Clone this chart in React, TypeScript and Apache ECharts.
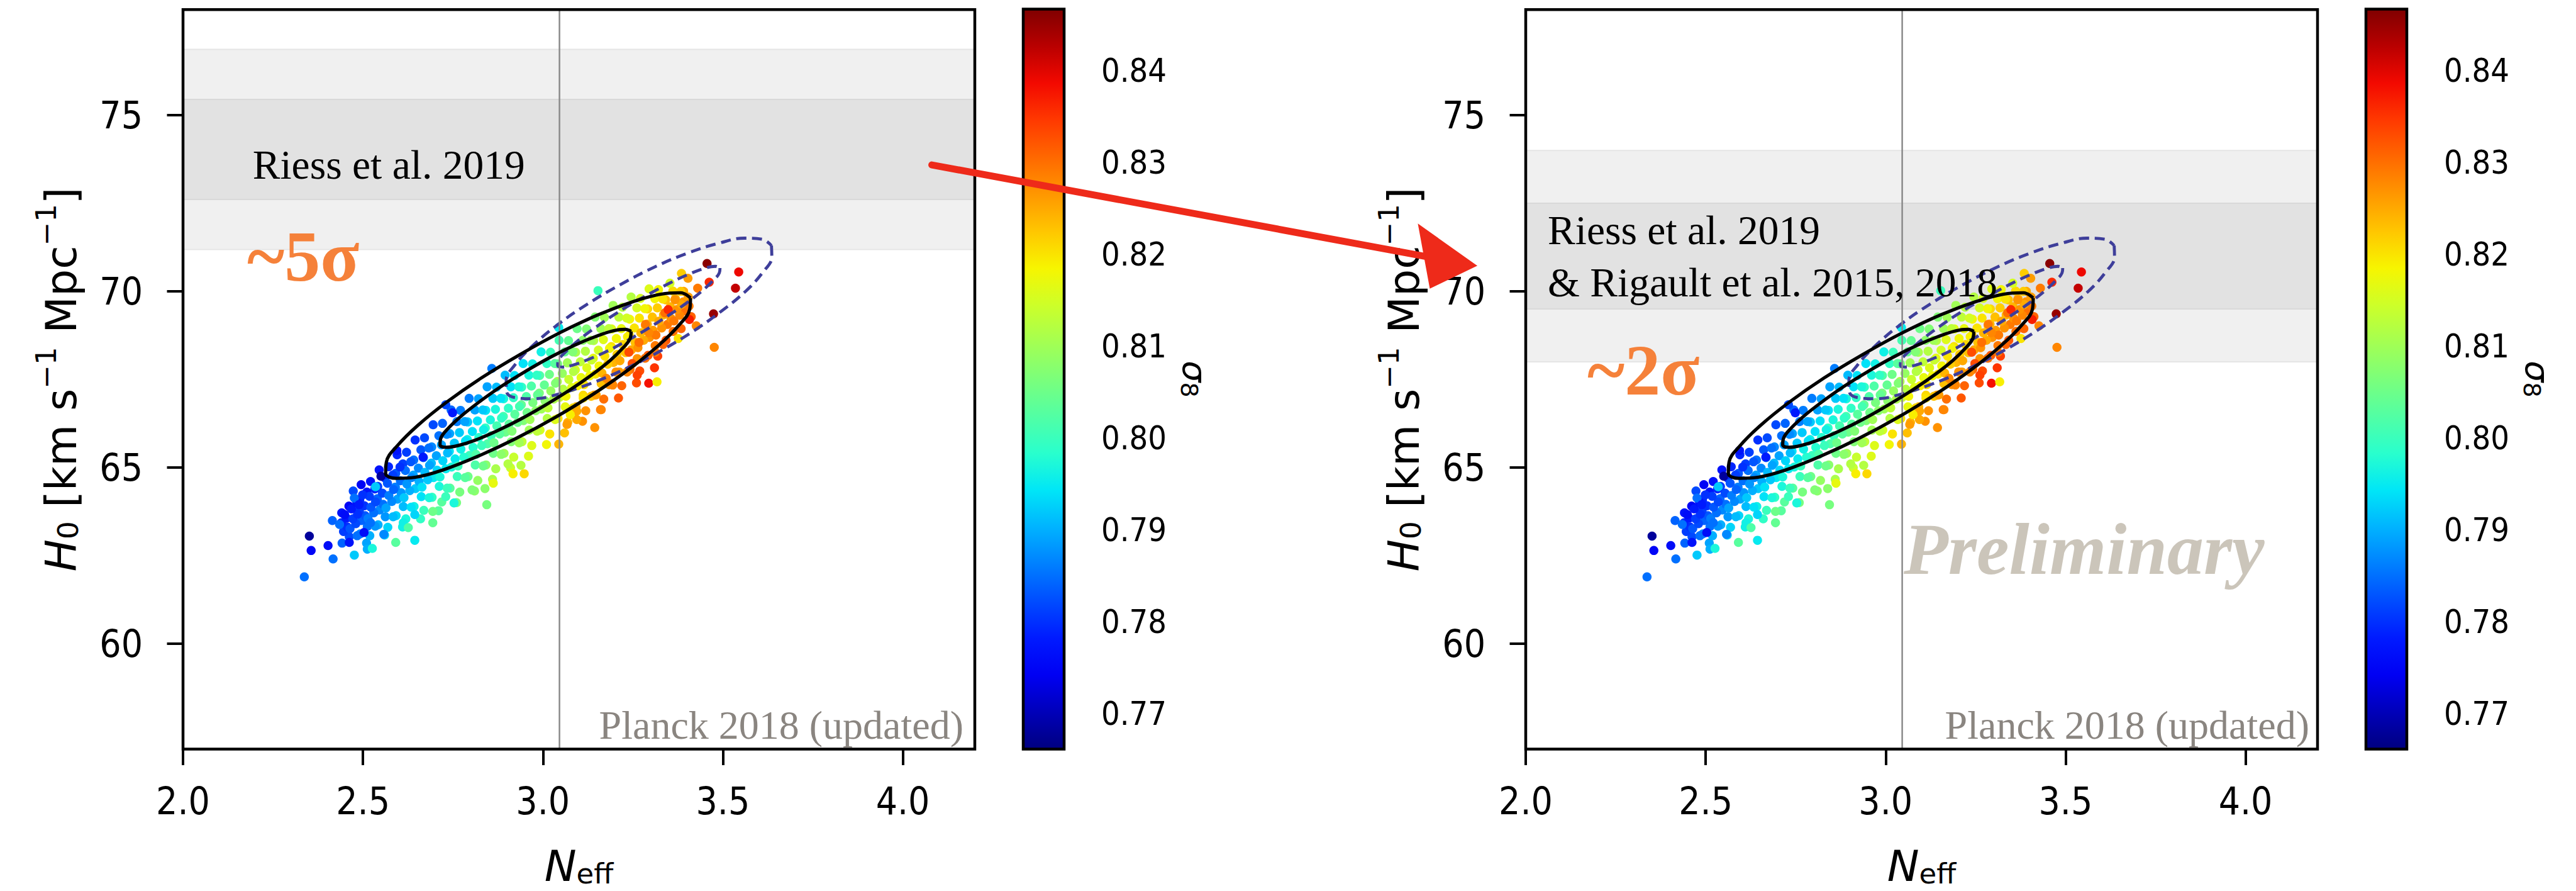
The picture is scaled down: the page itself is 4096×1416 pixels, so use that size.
import React, { useEffect, useRef } from "react";
import * as echarts from "echarts";

// ---- axis ranges and ticks ----
const NEFF_RANGE = [2.0, 4.2];
const H0_RANGE = [57, 78];
const SIGMA8_RANGE = [0.7661, 0.8467];
const NEFF_TICKS = [2.0, 2.5, 3.0, 3.5, 4.0];
const H0_TICKS = [60, 65, 70, 75];
const SIGMA8_TICKS = [0.77, 0.78, 0.79, 0.8, 0.81, 0.82, 0.83, 0.84];

// Planck standard-model value of N_eff
const PLANCK_NEFF = [3.046];

// local H0 measurements: [low, high] for 2 sigma then 1 sigma
const RIESS2019_BANDS = [
  [71.19, 76.87],
  [72.61, 75.45],
];
const RIESS_RIGAULT_BANDS = [
  [68.0, 74.0],
  [69.5, 72.5],
];

// Planck 2018 (updated) chain samples: [N_eff, H0, sigma8]
const SAMPLES_CORE_1 = [
  [2.442, 62.85, 0.784], [2.462, 63.03, 0.782], [2.446, 63.18, 0.781], [2.456, 63.31, 0.78], [2.44, 63.43, 0.779], [2.454, 63.56, 0.778], [2.441, 63.71, 0.777], [2.461, 63.9, 0.775],
  [2.51, 62.85, 0.789], [2.492, 63.11, 0.787], [2.512, 63.32, 0.785], [2.496, 63.49, 0.784], [2.506, 63.63, 0.783], [2.49, 63.77, 0.781], [2.504, 63.91, 0.78], [2.491, 64.08, 0.779], [2.511, 64.3, 0.777], [2.495, 64.51, 0.775],
  [2.56, 63.08, 0.793], [2.542, 63.37, 0.79], [2.562, 63.6, 0.788], [2.546, 63.79, 0.787], [2.556, 63.95, 0.785], [2.54, 64.11, 0.784], [2.554, 64.27, 0.782], [2.541, 64.46, 0.781], [2.561, 64.7, 0.779], [2.545, 64.93, 0.777],
  [2.61, 63.31, 0.796], [2.592, 63.63, 0.793], [2.612, 63.89, 0.791], [2.596, 64.1, 0.789], [2.606, 64.28, 0.788], [2.59, 64.44, 0.786], [2.604, 64.62, 0.785], [2.591, 64.83, 0.783], [2.611, 65.1, 0.781], [2.595, 65.36, 0.779],
  [2.66, 63.54, 0.799], [2.642, 63.89, 0.796], [2.662, 64.17, 0.794], [2.646, 64.4, 0.792], [2.656, 64.6, 0.79], [2.64, 64.78, 0.789], [2.654, 64.98, 0.787], [2.641, 65.21, 0.785], [2.661, 65.5, 0.783], [2.645, 65.78, 0.78],
  [2.71, 63.77, 0.803], [2.692, 64.15, 0.799], [2.712, 64.46, 0.797], [2.696, 64.71, 0.795], [2.706, 64.92, 0.793], [2.69, 65.12, 0.791], [2.704, 65.33, 0.789], [2.691, 65.58, 0.787], [2.711, 65.9, 0.785], [2.695, 66.21, 0.782],
  [2.76, 64.0, 0.806], [2.742, 64.41, 0.803], [2.762, 64.74, 0.8], [2.746, 65.01, 0.797], [2.756, 65.24, 0.795], [2.74, 65.46, 0.794], [2.754, 65.69, 0.792], [2.741, 65.96, 0.789], [2.761, 66.3, 0.786], [2.745, 66.63, 0.784],
  [2.81, 64.33, 0.808], [2.792, 64.74, 0.805], [2.812, 65.07, 0.802], [2.796, 65.34, 0.8], [2.806, 65.57, 0.798], [2.79, 65.79, 0.796], [2.804, 66.02, 0.794], [2.791, 66.29, 0.792], [2.811, 66.63, 0.789], [2.795, 66.96, 0.786],
  [2.86, 64.66, 0.811], [2.842, 65.07, 0.808], [2.862, 65.4, 0.805], [2.846, 65.67, 0.802], [2.856, 65.9, 0.8], [2.84, 66.12, 0.799], [2.854, 66.35, 0.797], [2.841, 66.62, 0.794], [2.861, 66.96, 0.792], [2.845, 67.29, 0.789],
  [2.91, 64.99, 0.814], [2.892, 65.4, 0.81], [2.912, 65.73, 0.807], [2.896, 66.0, 0.805], [2.906, 66.23, 0.803], [2.89, 66.45, 0.801], [2.904, 66.68, 0.799], [2.891, 66.95, 0.797], [2.911, 67.29, 0.794], [2.895, 67.62, 0.791],
  [2.96, 65.32, 0.816], [2.942, 65.73, 0.813], [2.962, 66.06, 0.81], [2.946, 66.33, 0.807], [2.956, 66.56, 0.805], [2.94, 66.78, 0.804], [2.954, 67.01, 0.802], [2.941, 67.28, 0.799], [2.961, 67.62, 0.797], [2.945, 67.95, 0.794],
  [3.01, 65.65, 0.818], [2.992, 66.06, 0.815], [3.012, 66.39, 0.812], [2.996, 66.66, 0.81], [3.006, 66.89, 0.808], [2.99, 67.11, 0.806], [3.004, 67.34, 0.804], [2.991, 67.61, 0.802], [3.011, 67.95, 0.799], [2.995, 68.28, 0.796],
  [3.06, 65.98, 0.823], [3.042, 66.39, 0.82], [3.062, 66.72, 0.817], [3.046, 66.99, 0.814], [3.056, 67.22, 0.812], [3.04, 67.44, 0.811], [3.054, 67.67, 0.809], [3.041, 67.94, 0.806], [3.061, 68.28, 0.804], [3.045, 68.61, 0.801],
  [3.11, 66.31, 0.827], [3.092, 66.72, 0.824], [3.112, 67.05, 0.821], [3.096, 67.32, 0.819], [3.106, 67.55, 0.817], [3.09, 67.77, 0.815], [3.104, 68.0, 0.813], [3.091, 68.27, 0.811], [3.111, 68.61, 0.808], [3.095, 68.94, 0.805],
  [3.16, 66.64, 0.829], [3.142, 67.05, 0.826], [3.162, 67.38, 0.823], [3.146, 67.65, 0.82], [3.156, 67.88, 0.818], [3.14, 68.1, 0.817], [3.154, 68.33, 0.815], [3.141, 68.6, 0.812], [3.161, 68.94, 0.81], [3.145, 69.27, 0.807],
  [3.21, 66.97, 0.832], [3.192, 67.38, 0.829], [3.212, 67.71, 0.826], [3.196, 67.98, 0.824], [3.206, 68.21, 0.822], [3.19, 68.43, 0.82], [3.204, 68.66, 0.818], [3.191, 68.93, 0.816], [3.211, 69.27, 0.813], [3.195, 69.6, 0.81],
  [3.26, 67.4, 0.833], [3.242, 67.78, 0.83], [3.262, 68.09, 0.827], [3.246, 68.34, 0.825], [3.256, 68.55, 0.823], [3.24, 68.75, 0.822], [3.254, 68.96, 0.82], [3.241, 69.21, 0.818], [3.261, 69.53, 0.815], [3.245, 69.84, 0.812],
  [3.31, 67.83, 0.835], [3.292, 68.18, 0.832], [3.312, 68.46, 0.829], [3.296, 68.69, 0.827], [3.306, 68.89, 0.826], [3.29, 69.07, 0.824], [3.304, 69.27, 0.823], [3.291, 69.5, 0.821], [3.311, 69.79, 0.818], [3.295, 70.07, 0.816],
  [3.342, 68.61, 0.832], [3.362, 68.86, 0.83], [3.346, 69.06, 0.829], [3.356, 69.23, 0.827], [3.34, 69.39, 0.826], [3.354, 69.56, 0.824], [3.341, 69.76, 0.823], [3.361, 70.01, 0.821],
  [3.412, 69.28, 0.831], [3.396, 69.44, 0.83], [3.406, 69.58, 0.829], [3.39, 69.7, 0.827], [3.404, 69.84, 0.826], [3.391, 70.0, 0.825],
];

const SAMPLES_CORE_2 = [
  [2.484, 63.06, 0.785], [2.464, 63.26, 0.783], [2.48, 63.4, 0.782], [2.472, 63.54, 0.781], [2.485, 63.67, 0.78], [2.468, 63.82, 0.778], [2.483, 64.0, 0.777],
  [2.519, 63.06, 0.79], [2.534, 63.33, 0.788], [2.514, 63.55, 0.786], [2.53, 63.71, 0.785], [2.522, 63.87, 0.783], [2.535, 64.02, 0.782], [2.518, 64.18, 0.781], [2.533, 64.39, 0.779], [2.521, 64.6, 0.777],
  [2.569, 63.3, 0.793], [2.584, 63.6, 0.791], [2.564, 63.85, 0.789], [2.58, 64.03, 0.787], [2.572, 64.2, 0.786], [2.585, 64.37, 0.784], [2.568, 64.55, 0.783], [2.583, 64.78, 0.781], [2.571, 65.02, 0.779],
  [2.619, 63.54, 0.797], [2.634, 63.87, 0.794], [2.614, 64.14, 0.792], [2.63, 64.34, 0.79], [2.622, 64.53, 0.788], [2.635, 64.71, 0.787], [2.618, 64.91, 0.785], [2.633, 65.16, 0.783], [2.621, 65.43, 0.781],
  [2.669, 63.78, 0.8], [2.684, 64.14, 0.797], [2.664, 64.44, 0.794], [2.68, 64.65, 0.792], [2.672, 64.86, 0.791], [2.685, 65.06, 0.789], [2.668, 65.28, 0.787], [2.683, 65.55, 0.785], [2.671, 65.84, 0.782],
  [2.719, 64.02, 0.803], [2.734, 64.41, 0.8], [2.714, 64.73, 0.797], [2.73, 64.96, 0.795], [2.722, 65.19, 0.793], [2.735, 65.41, 0.791], [2.718, 65.64, 0.789], [2.733, 65.94, 0.787], [2.721, 66.25, 0.784],
  [2.769, 64.3, 0.806], [2.784, 64.71, 0.803], [2.764, 65.04, 0.8], [2.78, 65.29, 0.798], [2.772, 65.52, 0.796], [2.785, 65.75, 0.794], [2.768, 65.99, 0.792], [2.783, 66.3, 0.789], [2.771, 66.62, 0.786],
  [2.819, 64.63, 0.809], [2.834, 65.04, 0.805], [2.814, 65.37, 0.802], [2.83, 65.62, 0.8], [2.822, 65.85, 0.798], [2.835, 66.07, 0.796], [2.818, 66.32, 0.794], [2.833, 66.63, 0.792], [2.821, 66.95, 0.789],
  [2.869, 64.96, 0.811], [2.884, 65.37, 0.808], [2.864, 65.7, 0.805], [2.88, 65.95, 0.803], [2.872, 66.18, 0.801], [2.885, 66.4, 0.799], [2.868, 66.65, 0.797], [2.883, 66.96, 0.794], [2.871, 67.28, 0.791],
  [2.919, 65.29, 0.814], [2.934, 65.7, 0.81], [2.914, 66.03, 0.807], [2.93, 66.28, 0.805], [2.922, 66.51, 0.803], [2.935, 66.73, 0.801], [2.918, 66.98, 0.799], [2.933, 67.29, 0.797], [2.921, 67.61, 0.794],
  [2.969, 65.62, 0.816], [2.984, 66.03, 0.813], [2.964, 66.36, 0.81], [2.98, 66.61, 0.808], [2.972, 66.84, 0.806], [2.985, 67.06, 0.804], [2.968, 67.31, 0.802], [2.983, 67.62, 0.799], [2.971, 67.94, 0.796],
  [3.019, 65.95, 0.82], [3.034, 66.36, 0.816], [3.014, 66.69, 0.813], [3.03, 66.94, 0.811], [3.022, 67.17, 0.809], [3.035, 67.39, 0.807], [3.018, 67.64, 0.805], [3.033, 67.95, 0.803], [3.021, 68.27, 0.8],
  [3.069, 66.28, 0.824], [3.084, 66.69, 0.821], [3.064, 67.02, 0.818], [3.08, 67.27, 0.816], [3.072, 67.5, 0.814], [3.085, 67.72, 0.812], [3.068, 67.97, 0.81], [3.083, 68.28, 0.807], [3.071, 68.6, 0.804],
  [3.119, 66.61, 0.827], [3.134, 67.02, 0.823], [3.114, 67.35, 0.82], [3.13, 67.6, 0.818], [3.122, 67.83, 0.816], [3.135, 68.05, 0.814], [3.118, 68.3, 0.812], [3.133, 68.61, 0.81], [3.121, 68.93, 0.807],
  [3.169, 66.94, 0.83], [3.184, 67.35, 0.827], [3.164, 67.68, 0.824], [3.18, 67.93, 0.822], [3.172, 68.16, 0.82], [3.185, 68.38, 0.818], [3.168, 68.63, 0.816], [3.183, 68.94, 0.813], [3.171, 69.26, 0.81],
  [3.219, 67.32, 0.831], [3.234, 67.71, 0.828], [3.214, 68.03, 0.825], [3.23, 68.26, 0.823], [3.222, 68.49, 0.821], [3.235, 68.71, 0.819], [3.218, 68.94, 0.817], [3.233, 69.24, 0.815], [3.221, 69.55, 0.812],
  [3.269, 67.74, 0.833], [3.284, 68.1, 0.83], [3.264, 68.4, 0.827], [3.28, 68.61, 0.825], [3.272, 68.82, 0.824], [3.285, 69.02, 0.822], [3.268, 69.24, 0.82], [3.283, 69.51, 0.818], [3.271, 69.8, 0.815],
  [3.319, 68.16, 0.834], [3.334, 68.49, 0.831], [3.314, 68.76, 0.829], [3.33, 68.96, 0.827], [3.322, 69.15, 0.825], [3.335, 69.33, 0.824], [3.318, 69.53, 0.822], [3.333, 69.78, 0.82], [3.321, 70.05, 0.818],
  [3.384, 68.94, 0.831], [3.364, 69.16, 0.829], [3.38, 69.32, 0.828], [3.372, 69.48, 0.827], [3.385, 69.63, 0.825], [3.368, 69.79, 0.824], [3.383, 70.0, 0.822],
];

const SAMPLES_TAIL = [
  [2.337, 61.89, 0.785], [2.351, 63.05, 0.768], [2.356, 62.64, 0.775], [2.403, 62.78, 0.776], [2.417, 62.4, 0.785],
  [2.415, 63.49, 0.784], [2.435, 63.38, 0.785], [2.449, 63.66, 0.776], [2.462, 62.87, 0.777], [2.476, 62.51, 0.792],
  [2.473, 64.33, 0.782], [2.476, 64.13, 0.785], [2.499, 64.22, 0.78], [2.503, 63.15, 0.776], [2.489, 63.94, 0.778],
  [2.512, 62.68, 0.79], [2.526, 62.7, 0.797], [2.521, 63.43, 0.785], [2.535, 64.45, 0.792], [2.55, 64.75, 0.768],
  [2.558, 63.1, 0.787], [2.591, 62.87, 0.803], [2.644, 62.93, 0.795], [2.594, 65.48, 0.777], [2.603, 65.01, 0.78],
  [2.612, 63.43, 0.796], [2.626, 63.29, 0.802], [2.644, 63.66, 0.793], [2.694, 63.43, 0.804], [2.694, 63.75, 0.805],
  [2.667, 65.29, 0.778], [2.73, 66.78, 0.782], [2.749, 66.55, 0.778], [2.858, 67.81, 0.786], [2.844, 63.94, 0.806],
  [2.753, 63.99, 0.797], [2.862, 64.55, 0.817], [2.917, 64.82, 0.819], [2.948, 64.82, 0.821], [2.939, 65.06, 0.812],
  [2.903, 65.1, 0.812], [2.839, 64.4, 0.808], [2.803, 64.36, 0.807], [2.73, 64.17, 0.8], [3.153, 70.02, 0.8],
  [3.044, 68.97, 0.795], [3.144, 66.13, 0.827], [3.162, 66.64, 0.828], [3.067, 66.22, 0.826], [3.094, 66.36, 0.825],
  [3.044, 65.66, 0.824], [3.294, 67.39, 0.838], [3.317, 67.43, 0.819], [3.262, 67.62, 0.834], [3.248, 67.95, 0.833],
  [3.312, 68.27, 0.829], [3.376, 68.66, 0.82], [3.407, 69.2, 0.837], [3.426, 69.02, 0.828], [3.476, 68.41, 0.828],
  [3.474, 69.36, 0.845], [3.456, 70.79, 0.846], [3.462, 70.26, 0.836], [3.535, 70.09, 0.842], [3.544, 70.55, 0.839],
  [3.43, 70.09, 0.829], [3.403, 70.37, 0.826], [3.385, 70.51, 0.822], [3.353, 70.23, 0.815], [3.367, 69.76, 0.827],
  [3.339, 69.39, 0.83], [3.348, 69.48, 0.836], [3.285, 69.06, 0.829], [3.294, 68.83, 0.828], [3.267, 68.55, 0.83],
  [3.239, 68.27, 0.833], [3.203, 67.71, 0.827], [3.194, 67.34, 0.828], [3.176, 67.53, 0.828], [3.148, 67.06, 0.826],
  [3.112, 66.97, 0.82], [3.094, 66.6, 0.825], [3.076, 66.5, 0.819],
];

// 68% / 95% contours of the Planck 2018 (updated) constraint: [N_eff, H0]
const CONTOUR_68 = [
  [3.245, 68.86], [3.243, 68.68], [3.223, 68.4], [3.187, 68.04], [3.136, 67.63], [3.075, 67.2], [3.007, 66.77],
  [2.938, 66.37], [2.871, 66.03], [2.811, 65.77], [2.764, 65.62], [2.73, 65.57], [2.714, 65.64], [2.716, 65.82],
  [2.736, 66.1], [2.772, 66.45], [2.823, 66.86], [2.884, 67.3], [2.952, 67.73], [3.021, 68.13], [3.088, 68.47],
  [3.147, 68.72], [3.195, 68.88], [3.229, 68.92], [3.245, 68.86],
];
const CONTOUR_95 = [
  [3.41, 69.81], [3.408, 69.5], [3.378, 69.04], [3.321, 68.46], [3.241, 67.8], [3.144, 67.11], [3.036, 66.43],
  [2.925, 65.82], [2.818, 65.31], [2.723, 64.93], [2.645, 64.72], [2.591, 64.69], [2.563, 64.83], [2.565, 65.15],
  [2.595, 65.61], [2.652, 66.19], [2.732, 66.85], [2.829, 67.54], [2.937, 68.21], [3.048, 68.83], [3.155, 69.34],
  [3.251, 69.71], [3.328, 69.92], [3.383, 69.96], [3.41, 69.81],
];
// comparison constraint (dashed)
const ALT_CONTOUR_68 = [
  [3.492, 70.66], [3.49, 70.52], [3.472, 70.3], [3.441, 70.0], [3.398, 69.66], [3.345, 69.29], [3.288, 68.92],
  [3.229, 68.57], [3.172, 68.27], [3.122, 68.05], [3.082, 67.9], [3.054, 67.85], [3.041, 67.9], [3.043, 68.04],
  [3.061, 68.26], [3.093, 68.56], [3.136, 68.9], [3.188, 69.27], [3.246, 69.64], [3.305, 69.98], [3.361, 70.28],
  [3.411, 70.51], [3.451, 70.66], [3.479, 70.71], [3.492, 70.66],
];
const ALT_CONTOUR_95 = [
  [3.635, 71.3], [3.636, 70.98], [3.611, 70.54], [3.564, 70.01], [3.495, 69.43], [3.412, 68.83], [3.318, 68.26],
  [3.221, 67.76], [3.127, 67.36], [3.043, 67.08], [2.974, 66.95], [2.924, 66.98], [2.899, 67.15], [2.898, 67.47],
  [2.922, 67.91], [2.97, 68.44], [3.038, 69.03], [3.121, 69.62], [3.215, 70.19], [3.312, 70.7], [3.406, 71.1],
  [3.49, 71.37], [3.56, 71.51], [3.609, 71.48], [3.635, 71.3],
];

// ---- styling ----
const JET = [
  "#000080", "#0000b9", "#0000f3", "#001aff", "#004cff", "#0080ff", "#00b3ff", "#00e6f7", "#29ffcd", "#52ffa4",
  "#7bff7b", "#a4ff52", "#cdff29", "#f7f500", "#ffc600", "#ff9700", "#ff6800", "#ff3900", "#f30900", "#b90000", "#800000",
];
const SANS = "DejaVu Sans";
const TICK_FONT = "'DejaVu Sans Condensed', 'DejaVu Sans'";
const SERIF = "'Liberation Serif', 'DejaVu Serif', serif";
const ORANGE = "#f5813a";

// ---- layout (pixels) ----
const PANEL_DX = [0, 2135];
const PLOT = { left: 291, top: 15.3, width: 1259, height: 1175.2 };
const CBAR = { left: 1627, top: 14.5, width: 65, height: 1176 };
const FRAME_W = 4.5;

function buildOption() {
  const samples = [...SAMPLES_CORE_1, ...SAMPLES_CORE_2, ...SAMPLES_TAIL];
  const grid: any[] = [];
  const xAxis: any[] = [];
  const yAxis: any[] = [];
  const series: any[] = [];
  const scatterIdx: number[] = [];

  const tickStyle = { color: "#000", width: 4 };

  PANEL_DX.forEach((dx, p) => {
    const bands = p === 0 ? RIESS2019_BANDS : RIESS_RIGAULT_BANDS;
    const g = grid.length;
    grid.push({ left: PLOT.left + dx, top: PLOT.top, width: PLOT.width, height: PLOT.height });
    grid.push({ left: CBAR.left + dx, top: CBAR.top, width: CBAR.width, height: CBAR.height });

    xAxis.push({
      type: "value", gridIndex: g, min: NEFF_RANGE[0], max: NEFF_RANGE[1],
      axisLine: { show: false },
      axisTick: { show: true, length: 25.5, lineStyle: tickStyle, customValues: NEFF_TICKS },
      axisLabel: {
        customValues: NEFF_TICKS, formatter: (v: number) => v.toFixed(1),
        fontSize: 60, fontFamily: TICK_FONT, color: "#000", margin: 52,
      },
      splitLine: { show: false },
      name: "{n|N}{s|eff}", nameLocation: "middle", nameGap: 140,
      nameTextStyle: {
        rich: {
          n: { fontSize: 68, fontStyle: "italic", fontFamily: SANS, color: "#000", lineHeight: 80, verticalAlign: "bottom" },
          s: { fontSize: 45, fontFamily: SANS, color: "#000", lineHeight: 47, verticalAlign: "bottom" },
        },
      },
    });
    xAxis.push({ type: "value", gridIndex: g + 1, min: 0, max: 1, show: false });

    yAxis.push({
      type: "value", gridIndex: g, min: H0_RANGE[0], max: H0_RANGE[1],
      axisLine: { show: false },
      axisTick: { show: true, length: 25.5, lineStyle: tickStyle, customValues: H0_TICKS },
      axisLabel: {
        customValues: H0_TICKS, formatter: (v: number) => String(v),
        fontSize: 60, fontFamily: TICK_FONT, color: "#000", margin: 64,
      },
      splitLine: { show: false },
      name: "{h|H}{sub|0}{t| [km s}{sup|−1}{t| Mpc}{sup|−1}{t|]}",
      nameLocation: "middle", nameRotate: 90, nameGap: 160,
      nameTextStyle: {
        rich: {
          h: { fontSize: 68, fontStyle: "italic", fontFamily: SANS, color: "#000", lineHeight: 80, verticalAlign: "bottom" },
          sub: { fontSize: 45, fontFamily: SANS, color: "#000", lineHeight: 47, verticalAlign: "bottom" },
          t: { fontSize: 68, fontFamily: SANS, color: "#000", lineHeight: 80, verticalAlign: "bottom" },
          sup: { fontSize: 45, fontFamily: SANS, color: "#000", lineHeight: 48, verticalAlign: "top" },
        },
      },
    });
    yAxis.push({
      type: "value", gridIndex: g + 1, min: SIGMA8_RANGE[0], max: SIGMA8_RANGE[1], position: "right",
      axisLine: { show: false },
      axisTick: { show: true, length: 25.5, lineStyle: tickStyle, customValues: SIGMA8_TICKS },
      axisLabel: {
        customValues: SIGMA8_TICKS, formatter: (v: number) => v.toFixed(2),
        fontSize: 52, fontFamily: TICK_FONT, color: "#000", margin: 59,
      },
      splitLine: { show: false },
      name: "{s|σ}{b|8}", nameLocation: "middle", nameRotate: -90, nameGap: 180,
      nameTextStyle: {
        rich: {
          s: { fontSize: 54, fontStyle: "italic", fontFamily: SANS, color: "#000", lineHeight: 64, verticalAlign: "bottom" },
          b: { fontSize: 38, fontFamily: SANS, color: "#000", lineHeight: 40, verticalAlign: "bottom" },
        },
      },
    });

    // H0 measurement bands
    series.push({
      type: "custom", xAxisIndex: g, yAxisIndex: g, z: 1, silent: true,
      data: bands,
      renderItem: (params: any, api: any) => {
        const lo = api.value(0);
        const hi = api.value(1);
        const a = api.coord([NEFF_RANGE[0], hi]);
        const b = api.coord([NEFF_RANGE[1], lo]);
        const inner = params.dataIndex === 1;
        return {
          type: "rect",
          shape: { x: a[0], y: a[1], width: b[0] - a[0], height: b[1] - a[1] },
          style: { fill: inner ? "#e2e2e2" : "#f0f0f0", stroke: inner ? "#d9d9d9" : "#e5e5e5", lineWidth: 2 },
        };
      },
    });

    // posterior samples coloured by sigma8
    scatterIdx.push(series.length);
    series.push({
      type: "scatter", xAxisIndex: g, yAxisIndex: g, z: 2, silent: true,
      data: samples, symbolSize: 14.5, itemStyle: { opacity: 1 },
    });

    // comparison contours (dashed)
    [ALT_CONTOUR_95, ALT_CONTOUR_68].forEach((c) =>
      series.push({
        type: "line", xAxisIndex: g, yAxisIndex: g, z: 3, silent: true, data: c,
        showSymbol: false, smooth: 0.4,
        lineStyle: { color: "#3e3e9a", width: 4.8, type: [16, 9] },
      })
    );

    // standard N_eff
    series.push({
      type: "custom", xAxisIndex: g, yAxisIndex: g, z: 4, silent: true,
      data: [PLANCK_NEFF],
      renderItem: (_: any, api: any) => {
        const a = api.coord([api.value(0), H0_RANGE[1]]);
        const b = api.coord([api.value(0), H0_RANGE[0]]);
        return { type: "line", shape: { x1: a[0], y1: a[1], x2: b[0], y2: b[1] }, style: { stroke: "#8a8a8a", lineWidth: 2.5 } };
      },
    });

    // Planck contours
    [CONTOUR_95, CONTOUR_68].forEach((c) =>
      series.push({
        type: "line", xAxisIndex: g, yAxisIndex: g, z: 5, silent: true, data: c,
        showSymbol: false, smooth: 0.4,
        lineStyle: { color: "#000", width: 5.2 },
      })
    );

    // plot frame
    series.push({
      type: "custom", xAxisIndex: g, yAxisIndex: g, z: 6, silent: true,
      data: [[NEFF_RANGE[0], H0_RANGE[0]]],
      renderItem: (_: any, api: any) => {
        const a = api.coord([NEFF_RANGE[0], H0_RANGE[1]]);
        const b = api.coord([NEFF_RANGE[1], H0_RANGE[0]]);
        return {
          type: "rect",
          shape: { x: a[0], y: a[1], width: b[0] - a[0], height: b[1] - a[1] },
          style: { fill: "transparent", stroke: "#000", lineWidth: FRAME_W },
        };
      },
    });

    // colour bar
    series.push({
      type: "custom", xAxisIndex: g + 1, yAxisIndex: g + 1, z: 2, silent: true,
      data: [[0, SIGMA8_RANGE[0]]],
      renderItem: (_: any, api: any) => {
        const a = api.coord([0, SIGMA8_RANGE[1]]);
        const b = api.coord([1, SIGMA8_RANGE[0]]);
        return {
          type: "rect",
          shape: { x: a[0], y: a[1], width: b[0] - a[0], height: b[1] - a[1] },
          style: {
            fill: new echarts.graphic.LinearGradient(0, 1, 0, 0,
              JET.map((c, i) => ({ offset: i / (JET.length - 1), color: c }))),
            stroke: "#000", lineWidth: FRAME_W,
          },
        };
      },
    });
  });

  const txt = (x: number, y: number, text: string, font: string, fill: string, align = "left") => ({
    type: "text", x, y, z: 100, silent: true,
    style: { text, font, fill, align, textAlign: align, verticalAlign: "middle", textVerticalAlign: "middle" },
  });

  const graphic = [
    // left panel annotations
    txt(401.7, 262, "Riess et al. 2019", `65.5px ${SERIF}`, "#000"),
    txt(393, 407.5, "~5σ", `bold 114px ${SERIF}`, ORANGE),
    txt(1532, 1152.4, "Planck 2018 (updated)", `64px ${SERIF}`, "#8a8580", "right"),
    // right panel annotations
    txt(2461, 366, "Riess et al. 2019", `65.5px ${SERIF}`, "#000"),
    txt(2461, 448.5, "& Rigault et al. 2015, 2018", `65.5px ${SERIF}`, "#000"),
    txt(2524, 588.5, "~2σ", `bold 114px ${SERIF}`, ORANGE),
    txt(3027, 873, "Preliminary", `italic bold 116px ${SERIF}`, "#cbc5ba"),
    txt(3672, 1152.4, "Planck 2018 (updated)", `64px ${SERIF}`, "#8a8580", "right"),
    // arrow linking the two panels
    {
      type: "line", z: 100, silent: true,
      shape: { x1: 1481.6, y1: 262.1, x2: 2267, y2: 407.6 },
      style: { stroke: "#ee2a1a", lineWidth: 11, lineCap: "round" },
    },
    {
      type: "polygon", z: 100, silent: true,
      shape: { points: [[2346.2, 422.1], [2256.6, 358.7], [2274.6, 456.6]] },
      style: { fill: "#ee2a1a", stroke: "#ee2a1a", lineWidth: 3 },
    },
  ];

  return {
    animation: false,
    backgroundColor: "#fff",
    textStyle: { fontFamily: SANS },
    grid, xAxis, yAxis, series, graphic,
    visualMap: {
      type: "continuous", show: false, dimension: 2, seriesIndex: scatterIdx,
      min: SIGMA8_RANGE[0], max: SIGMA8_RANGE[1], inRange: { color: JET },
    },
  };
}

export default function App() {
  const ref = useRef<HTMLDivElement>(null);
  useEffect(() => {
    document.body.style.margin = "0";
    const chart = echarts.init(ref.current!, null, { renderer: "svg", width: 4096, height: 1416 });
    chart.setOption(buildOption() as any);
    return () => chart.dispose();
  }, []);
  return <div ref={ref} style={{ width: 4096, height: 1416, position: "fixed", left: 0, top: 0 }} />;
}
